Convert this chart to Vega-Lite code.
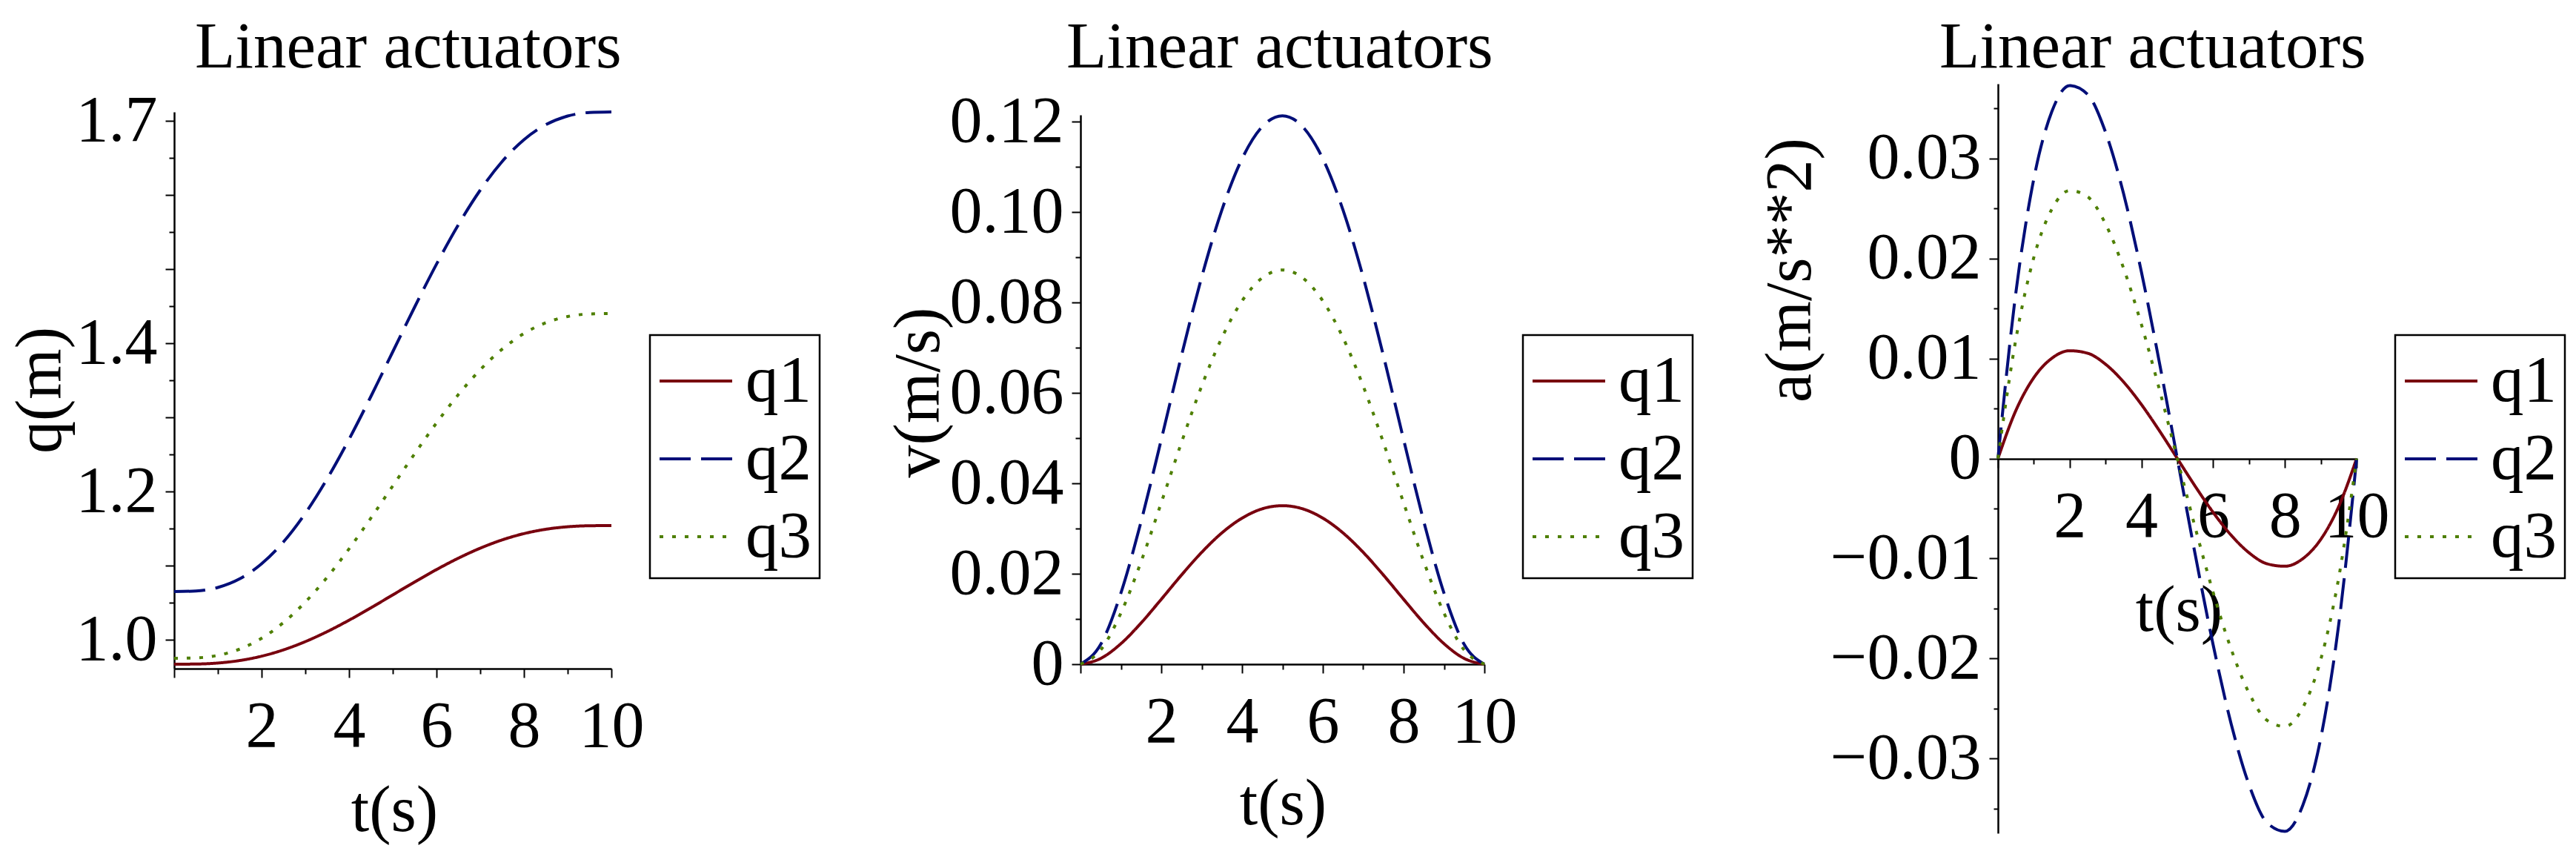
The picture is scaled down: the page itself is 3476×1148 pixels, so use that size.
{
  "$schema": "https://vega.github.io/schema/vega-lite/v6.json",
  "background": "white",
  "padding": 0,
  "autosize": {"type": "pad"},
  "config": {
    "view": {"stroke": null},
    "font": "Liberation Serif",
    "axis": {
      "grid": false, "domainColor": "black", "domainWidth": 2.5, "tickColor": "black", "tickWidth": 2,
      "labelFont": "Liberation Serif", "labelFontSize": 88, "labelColor": "black", "labelLimit": 0,
      "labelOverlap": false, "labelFlush": false, "labelBound": false,
      "titleFont": "Liberation Serif", "titleFontSize": 88, "titleFontWeight": "normal", "titleColor": "black"
    },
    "axisX": {"labelPadding": 22},
    "axisY": {"labelPadding": 11},
    "legend": {
      "padding": 11, "rowPadding": 9, "symbolType": "stroke", "symbolSize": 9604, "symbolStrokeWidth": 4,
      "labelFont": "Liberation Serif", "labelFontSize": 89, "labelColor": "black", "labelOffset": 16, "labelLimit": 0,
      "strokeColor": "black", "strokeWidth": 2.5
    },
    "title": {"font": "Liberation Serif", "fontSize": 89, "fontWeight": "normal", "color": "black"}
  },
  "datasets": {
    "d": [
      {"t":0,"s":"q1","q":0.967,"v":0,"a":0},
      {"t":0.5,"s":"q1","q":0.96722,"v":0.00127,"a":0.0048},
      {"t":1,"s":"q1","q":0.9686,"v":0.00454,"a":0.00808},
      {"t":1.5,"s":"q1","q":0.97198,"v":0.00912,"a":0.01001},
      {"t":2,"s":"q1","q":0.97783,"v":0.01436,"a":0.01077},
      {"t":2.5,"s":"q1","q":0.98636,"v":0.01972,"a":0.01052},
      {"t":3,"s":"q1","q":0.9975,"v":0.02474,"a":0.00942},
      {"t":3.5,"s":"q1","q":1.01098,"v":0.02904,"a":0.00766},
      {"t":4,"s":"q1","q":1.02636,"v":0.03231,"a":0.00539},
      {"t":4.5,"s":"q1","q":1.04309,"v":0.03437,"a":0.00278},
      {"t":5,"s":"q1","q":1.0605,"v":0.03506,"a":0},
      {"t":5.5,"s":"q1","q":1.07792,"v":0.03437,"a":-0.00278},
      {"t":6,"s":"q1","q":1.09464,"v":0.03231,"a":-0.00539},
      {"t":6.5,"s":"q1","q":1.11002,"v":0.02904,"a":-0.00766},
      {"t":7,"s":"q1","q":1.1235,"v":0.02474,"a":-0.00942},
      {"t":7.5,"s":"q1","q":1.13464,"v":0.01972,"a":-0.01052},
      {"t":8,"s":"q1","q":1.14317,"v":0.01436,"a":-0.01077},
      {"t":8.5,"s":"q1","q":1.14902,"v":0.00912,"a":-0.01001},
      {"t":9,"s":"q1","q":1.1524,"v":0.00454,"a":-0.00808},
      {"t":9.5,"s":"q1","q":1.15378,"v":0.00127,"a":-0.0048},
      {"t":10,"s":"q1","q":1.154,"v":0,"a":0},
      {"t":0,"s":"q2","q":1.065,"v":0,"a":0},
      {"t":0.5,"s":"q2","q":1.06575,"v":0.00438,"a":0.0166},
      {"t":1,"s":"q2","q":1.07054,"v":0.01572,"a":0.02795},
      {"t":1.5,"s":"q2","q":1.08222,"v":0.03155,"a":0.03465},
      {"t":2,"s":"q2","q":1.10247,"v":0.04969,"a":0.03727},
      {"t":2.5,"s":"q2","q":1.13197,"v":0.06824,"a":0.03639},
      {"t":3,"s":"q2","q":1.17051,"v":0.0856,"a":0.03261},
      {"t":3.5,"s":"q2","q":1.21716,"v":0.10046,"a":0.0265},
      {"t":4,"s":"q2","q":1.27038,"v":0.1118,"a":0.01863},
      {"t":4.5,"s":"q2","q":1.32825,"v":0.1189,"a":0.00961},
      {"t":5,"s":"q2","q":1.3885,"v":0.12131,"a":0},
      {"t":5.5,"s":"q2","q":1.44875,"v":0.1189,"a":-0.00961},
      {"t":6,"s":"q2","q":1.50662,"v":0.1118,"a":-0.01863},
      {"t":6.5,"s":"q2","q":1.55984,"v":0.10046,"a":-0.0265},
      {"t":7,"s":"q2","q":1.60649,"v":0.0856,"a":-0.03261},
      {"t":7.5,"s":"q2","q":1.64503,"v":0.06824,"a":-0.03639},
      {"t":8,"s":"q2","q":1.67453,"v":0.04969,"a":-0.03727},
      {"t":8.5,"s":"q2","q":1.69478,"v":0.03155,"a":-0.03465},
      {"t":9,"s":"q2","q":1.70646,"v":0.01572,"a":-0.02795},
      {"t":9.5,"s":"q2","q":1.71125,"v":0.00438,"a":-0.0166},
      {"t":10,"s":"q2","q":1.712,"v":0,"a":0},
      {"t":0,"s":"q3","q":0.975,"v":0,"a":0},
      {"t":0.5,"s":"q3","q":0.97554,"v":0.00315,"a":0.01193},
      {"t":1,"s":"q3","q":0.97898,"v":0.0113,"a":0.02009},
      {"t":1.5,"s":"q3","q":0.98737,"v":0.02268,"a":0.0249},
      {"t":2,"s":"q3","q":1.00193,"v":0.03571,"a":0.02678},
      {"t":2.5,"s":"q3","q":1.02314,"v":0.04904,"a":0.02616},
      {"t":3,"s":"q3","q":1.05083,"v":0.06152,"a":0.02344},
      {"t":3.5,"s":"q3","q":1.08435,"v":0.0722,"a":0.01904},
      {"t":4,"s":"q3","q":1.12261,"v":0.08035,"a":0.01339},
      {"t":4.5,"s":"q3","q":1.1642,"v":0.08545,"a":0.00691},
      {"t":5,"s":"q3","q":1.2075,"v":0.08719,"a":0},
      {"t":5.5,"s":"q3","q":1.2508,"v":0.08545,"a":-0.00691},
      {"t":6,"s":"q3","q":1.29239,"v":0.08035,"a":-0.01339},
      {"t":6.5,"s":"q3","q":1.33065,"v":0.0722,"a":-0.01904},
      {"t":7,"s":"q3","q":1.36417,"v":0.06152,"a":-0.02344},
      {"t":7.5,"s":"q3","q":1.39187,"v":0.04904,"a":-0.02616},
      {"t":8,"s":"q3","q":1.41307,"v":0.03571,"a":-0.02678},
      {"t":8.5,"s":"q3","q":1.42763,"v":0.02268,"a":-0.0249},
      {"t":9,"s":"q3","q":1.43602,"v":0.0113,"a":-0.02009},
      {"t":9.5,"s":"q3","q":1.43946,"v":0.00315,"a":-0.01193},
      {"t":10,"s":"q3","q":1.44,"v":0,"a":0}
    ]
  },
  "bounds": "flush",
  "spacing": 0,
  "resolve": {
    "scale": {"color": "independent", "strokeDash": "independent"},
    "legend": {"color": "independent", "strokeDash": "independent"}
  },
  "hconcat": [
    {
      "width": 1140, "height": 1148,
      "title": {"text": "Linear actuators", "anchor": "start", "frame": "group", "offset": -90, "dy": 90, "baseline": "alphabetic", "dx": 263, "font": "Liberation Serif", "fontSize": 89, "fontWeight": "normal", "color": "black"},
      "data": {"name": "d"},
      "mark": {"type": "line", "interpolate": "monotone", "strokeWidth": 4},
      "encoding": {
        "x": {"field": "t", "type": "quantitative",
          "scale": {"domain": [0, 10], "range": [235, 825], "nice": false, "zero": false},
          "axis": {"title": "t(s)", "offset": -246, "values": [0,1,2,3,4,5,6,7,8,9,10],
            "labelExpr": "datum.value > 0 && datum.value % 2 === 0 ? datum.label : ''",
            "tickSize": {"condition": {"test": "datum.value % 2 === 0", "value": 12}, "value": 7},
            "titleX": 532, "titleY": 218, "titleBaseline": "alphabetic", "titleAlign": "center"}},
        "y": {"field": "q", "type": "quantitative",
          "scale": {"domain": [0.961, 1.712], "range": [902, 151], "nice": false, "zero": false},
          "axis": {"title": "q(m)", "offset": -235,
            "values": [1.0,1.05,1.1,1.15,1.2,1.25,1.3,1.35,1.4,1.45,1.5,1.55,1.6,1.65,1.7],
            "labelExpr": "abs(datum.value-1)<1e-6 ? '1.0' : abs(datum.value-1.2)<1e-6 ? '1.2' : abs(datum.value-1.4)<1e-6 ? '1.4' : abs(datum.value-1.7)<1e-6 ? '1.7' : ''",
            "tickSize": {"condition": {"test": "abs(datum.value*10 - round(datum.value*10)) < 1e-6", "value": 12}, "value": 7},
            "titleAngle": 270, "titleX": -180, "titleY": 526, "titleBaseline": "middle", "titleAlign": "center"}},
        "color": {"field": "s", "type": "nominal",
          "scale": {"domain": ["q1","q2","q3"], "range": ["#78000E","#000E78","#4E7F00"]},
          "legend": {"title": null, "orient": "none", "legendX": 877, "legendY": 452, "labelFont": "Liberation Serif"}},
        "strokeDash": {"field": "s", "type": "nominal",
          "scale": {"domain": ["q1","q2","q3"], "range": [[1,0],[42,14],[5,12]]},
          "legend": {"title": null, "orient": "none", "legendX": 877, "legendY": 452, "labelFont": "Liberation Serif"}}
      }
    },
    {
      "width": 1180, "height": 1148,
      "title": {"text": "Linear actuators", "anchor": "start", "frame": "group", "offset": -90, "dy": 90, "baseline": "alphabetic", "dx": 299, "font": "Liberation Serif", "fontSize": 89, "fontWeight": "normal", "color": "black"},
      "data": {"name": "d"},
      "mark": {"type": "line", "interpolate": "monotone", "strokeWidth": 4},
      "encoding": {
        "x": {"field": "t", "type": "quantitative",
          "scale": {"domain": [0, 10], "range": [318, 863], "nice": false, "zero": false},
          "axis": {"title": "t(s)", "offset": -252, "values": [0,1,2,3,4,5,6,7,8,9,10],
            "labelExpr": "datum.value > 0 && datum.value % 2 === 0 ? datum.label : ''",
            "tickSize": {"condition": {"test": "datum.value % 2 === 0", "value": 12}, "value": 7},
            "titleX": 591, "titleY": 215, "titleBaseline": "alphabetic", "titleAlign": "center"}},
        "y": {"field": "v", "type": "quantitative",
          "scale": {"domain": [0, 0.1215], "range": [896, 155], "nice": false, "zero": false},
          "axis": {"title": "v(m/s)", "offset": -318,
            "values": [0,0.01,0.02,0.03,0.04,0.05,0.06,0.07,0.08,0.09,0.1,0.11,0.12],
            "labelExpr": "abs(datum.value*50 - round(datum.value*50)) < 1e-6 ? (abs(datum.value) < 1e-9 ? '0' : format(datum.value, '.2f')) : ''",
            "tickSize": {"condition": {"test": "abs(datum.value*50 - round(datum.value*50)) < 1e-6", "value": 12}, "value": 7},
            "titleAngle": 270, "titleX": -218, "titleY": 529, "titleBaseline": "middle", "titleAlign": "center"}},
        "color": {"field": "s", "type": "nominal",
          "scale": {"domain": ["q1","q2","q3"], "range": ["#78000E","#000E78","#4E7F00"]},
          "legend": {"title": null, "orient": "none", "legendX": 915, "legendY": 452, "labelFont": "Liberation Serif"}},
        "strokeDash": {"field": "s", "type": "nominal",
          "scale": {"domain": ["q1","q2","q3"], "range": [[1,0],[42,14],[5,12]]},
          "legend": {"title": null, "orient": "none", "legendX": 915, "legendY": 452, "labelFont": "Liberation Serif"}}
      }
    },
    {
      "width": 1156, "height": 1148,
      "title": {"text": "Linear actuators", "anchor": "start", "frame": "group", "offset": -90, "dy": 90, "baseline": "alphabetic", "dx": 297, "font": "Liberation Serif", "fontSize": 89, "fontWeight": "normal", "color": "black"},
      "data": {"name": "d"},
      "mark": {"type": "line", "interpolate": "monotone", "strokeWidth": 4},
      "encoding": {
        "x": {"field": "t", "type": "quantitative",
          "scale": {"domain": [0, 10], "range": [376, 860], "nice": false, "zero": false},
          "axis": {"title": "t(s)", "offset": -529, "values": [0,1,2,3,4,5,6,7,8,9,10],
            "labelExpr": "datum.value > 0 && datum.value % 2 === 0 ? datum.label : ''",
            "tickSize": {"condition": {"test": "datum.value % 2 === 0", "value": 12}, "value": 7},
            "titleX": 620, "titleY": 231, "titleBaseline": "alphabetic", "titleAlign": "center"}},
        "y": {"field": "a", "type": "quantitative",
          "scale": {"domain": [-0.03745, 0.03745], "range": [1124, 113], "nice": false, "zero": false},
          "axis": {"title": "a(m/s**2)", "offset": -376,
            "values": [-0.035,-0.03,-0.025,-0.02,-0.015,-0.01,-0.005,0,0.005,0.01,0.015,0.02,0.025,0.03,0.035],
            "labelExpr": "abs(datum.value*100 - round(datum.value*100)) < 1e-6 ? (abs(datum.value) < 1e-9 ? '0' : format(datum.value, '.2f')) : ''",
            "tickSize": {"condition": {"test": "abs(datum.value*100 - round(datum.value*100)) < 1e-6", "value": 12}, "value": 6},
            "titleAngle": 270, "titleX": -280, "titleY": 364, "titleBaseline": "middle", "titleAlign": "center"}},
        "color": {"field": "s", "type": "nominal",
          "scale": {"domain": ["q1","q2","q3"], "range": ["#78000E","#000E78","#4E7F00"]},
          "legend": {"title": null, "orient": "none", "legendX": 912, "legendY": 452, "labelFont": "Liberation Serif"}},
        "strokeDash": {"field": "s", "type": "nominal",
          "scale": {"domain": ["q1","q2","q3"], "range": [[1,0],[42,14],[5,12]]},
          "legend": {"title": null, "orient": "none", "legendX": 912, "legendY": 452, "labelFont": "Liberation Serif"}}
      }
    }
  ]
}
